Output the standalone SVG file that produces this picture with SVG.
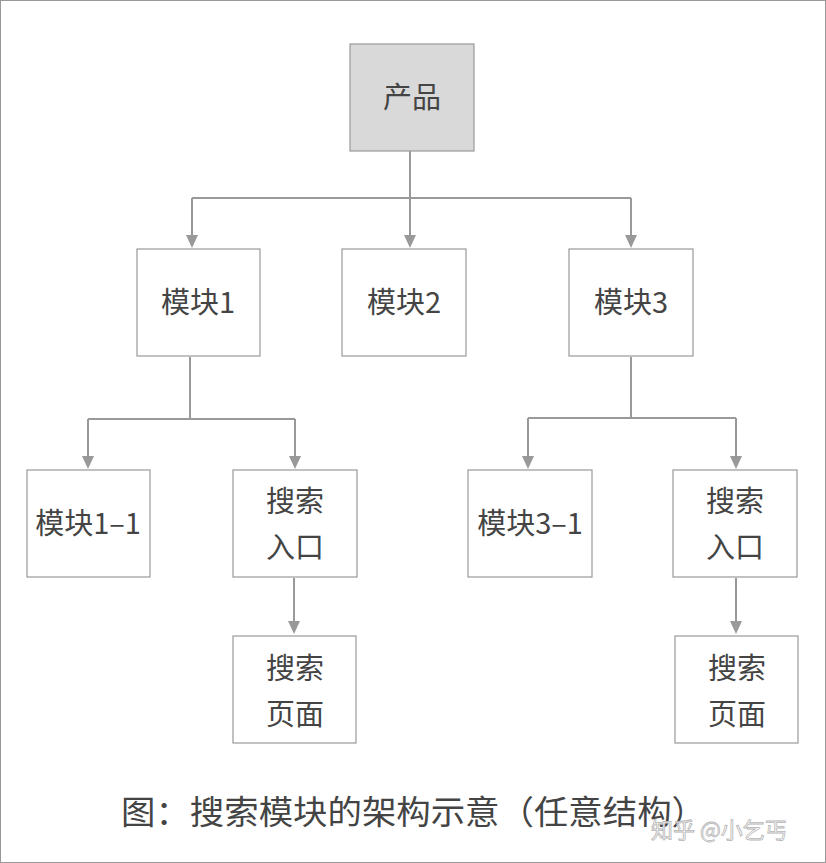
<svg xmlns="http://www.w3.org/2000/svg" width="826" height="863" viewBox="0 0 826 863">
<style>
.box{fill:#fff;stroke:#999;stroke-width:1.2}
.top{fill:#d9d9d9;stroke:#999;stroke-width:1.2}
.t{font-family:"Noto Sans CJK SC","Noto Sans",sans-serif;font-size:29px;fill:#444;text-anchor:middle}
.c{fill:none;stroke:#999;stroke-width:2}
.ah{fill:#999}
.cap{font-family:"Noto Sans CJK SC","Noto Sans",sans-serif;font-size:33px;fill:#444}
.wm{font-family:"Noto Sans CJK SC","Noto Sans",sans-serif;font-size:22px;fill:#fff;stroke:#b5b5b5;stroke-width:0.8}
</style>
<rect x="0.5" y="0.5" width="825" height="862" fill="#fff" stroke="#999" stroke-width="1"/>
<g id="connectors">
<path class="c" d="M410,151 V198 M192,198 H631"/>
<path class="c" d="M192,198 V236"/>
<path class="c" d="M410,198 V236"/>
<path class="c" d="M631,198 V236"/>
<path class="ah" d="M186,235 L198,235 L192,248 Z M404,235 L416,235 L410,248 Z M625,235 L637,235 L631,248 Z"/>
<path class="c" d="M190,357 V419 M88,419 H295 M88,419 V457 M295,419 V457"/>
<path class="ah" d="M82,456 L94,456 L88,469 Z M289,456 L301,456 L295,469 Z"/>
<path class="c" d="M631,357 V418 M528,418 H736 M528,418 V457 M736,418 V457"/>
<path class="ah" d="M522,456 L534,456 L528,469 Z M730,456 L742,456 L736,469 Z"/>
<path class="c" d="M294,578 V622"/>
<path class="ah" d="M288,621 L300,621 L294,634 Z"/>
<path class="c" d="M736,578 V622"/>
<path class="ah" d="M730,621 L742,621 L736,634 Z"/>
</g>
<g id="n-product"><rect class="top" x="350" y="44" width="124" height="107"/><text class="t" x="412" y="108">产品</text></g>
<g id="n-m1"><rect class="box" x="137" y="249" width="123" height="107"/><text class="t" x="198" y="313">模块1</text></g>
<g id="n-m2"><rect class="box" x="342" y="249" width="124" height="107"/><text class="t" x="404" y="313">模块2</text></g>
<g id="n-m3"><rect class="box" x="569" y="249" width="124" height="107"/><text class="t" x="631" y="313">模块3</text></g>
<g id="n-m11"><rect class="box" x="27" y="470" width="123" height="107"/><text class="t" x="88" y="534">模块1–1</text></g>
<g id="n-s1"><rect class="box" x="233" y="470" width="124" height="107"/><text class="t" x="295" y="512">搜索</text><text class="t" x="295" y="558">入口</text></g>
<g id="n-m31"><rect class="box" x="468" y="470" width="124" height="107"/><text class="t" x="530" y="534">模块3–1</text></g>
<g id="n-s3"><rect class="box" x="673" y="470" width="124" height="107"/><text class="t" x="735" y="512">搜索</text><text class="t" x="735" y="558">入口</text></g>
<g id="n-p1"><rect class="box" x="233" y="636" width="123" height="107"/><text class="t" x="295" y="679">搜索</text><text class="t" x="295" y="725">页面</text></g>
<g id="n-p3"><rect class="box" x="675" y="636" width="123" height="107"/><text class="t" x="737" y="679">搜索</text><text class="t" x="737" y="725">页面</text></g>
<text class="cap" x="121" y="824" textLength="585" lengthAdjust="spacingAndGlyphs">图：搜索模块的架构示意（任意结构）</text>
<text class="wm" x="651" y="838">知乎 @小乞丐</text>
</svg>
